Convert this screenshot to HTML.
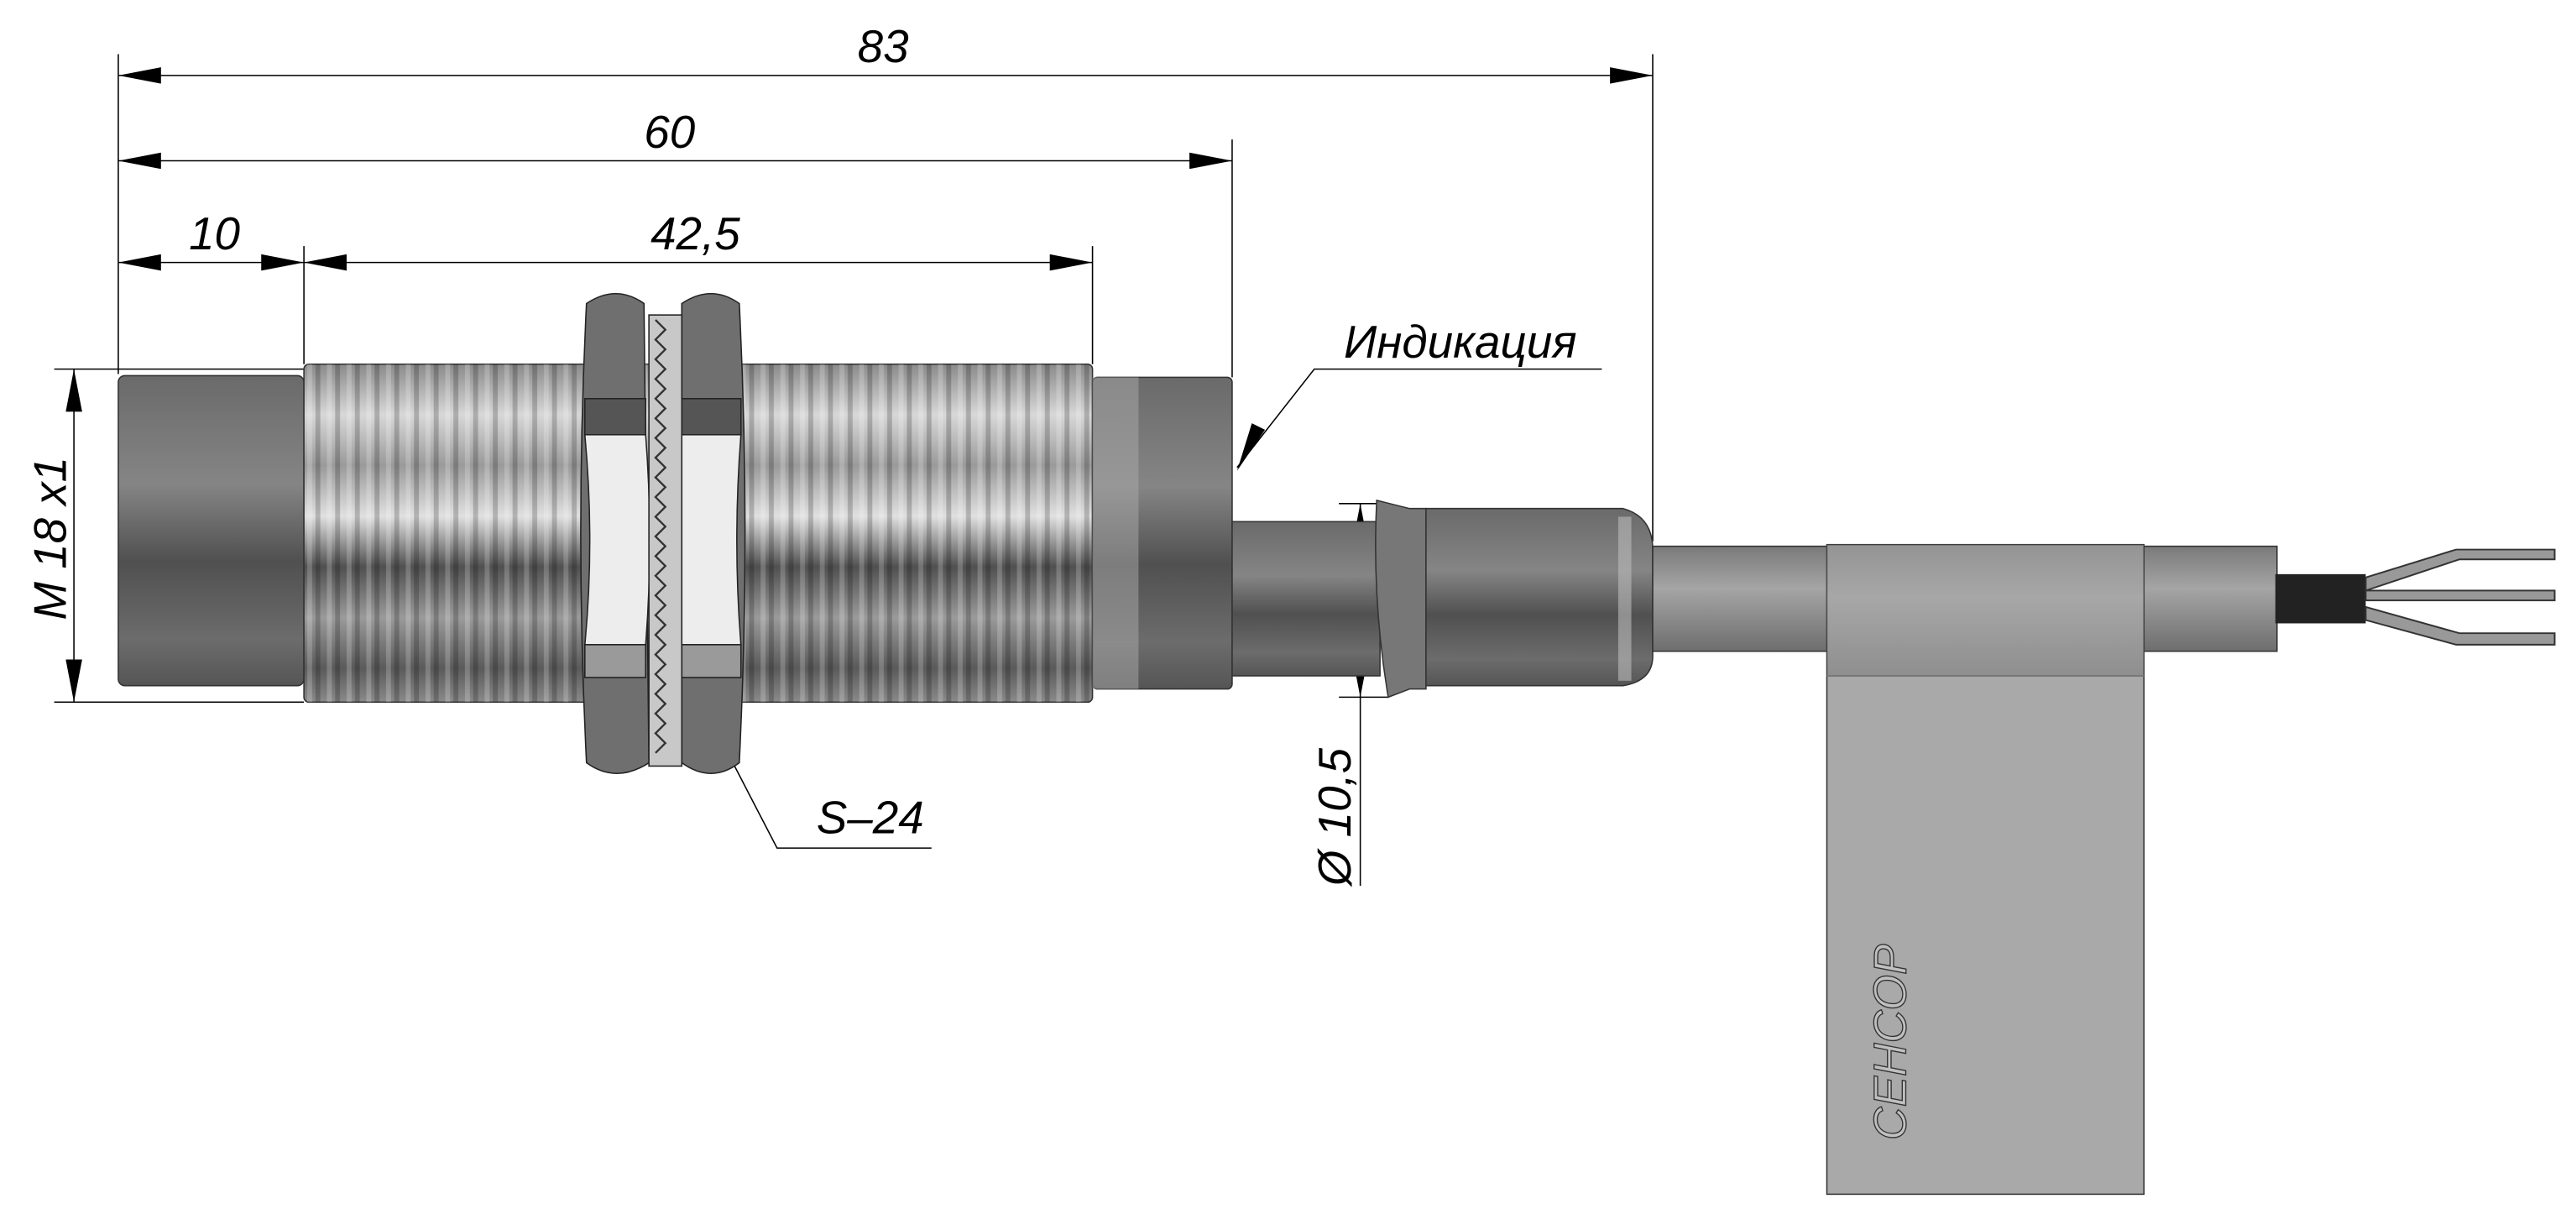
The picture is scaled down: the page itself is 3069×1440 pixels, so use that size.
<!DOCTYPE html>
<html><head><meta charset="utf-8"><style>html,body{margin:0;padding:0;background:#fff}svg{display:block}</style></head><body>
<svg width="3069" height="1440" viewBox="0 0 1568 737" preserveAspectRatio="none" xmlns="http://www.w3.org/2000/svg" font-family="Liberation Sans Narrow, Liberation Sans, DejaVu Sans, sans-serif">
<defs>
<linearGradient id="cyl" x1="0" y1="0" x2="0" y2="1">
<stop offset="0" stop-color="#8a8a8a"/><stop offset="0.15" stop-color="#d8d8d8"/><stop offset="0.3" stop-color="#9a9a9a"/><stop offset="0.45" stop-color="#e0e0e0"/><stop offset="0.6" stop-color="#505050"/><stop offset="0.75" stop-color="#9a9a9a"/><stop offset="0.9" stop-color="#5a5a5a"/><stop offset="1" stop-color="#8a8a8a"/></linearGradient>
<linearGradient id="dark" x1="0" y1="0" x2="0" y2="1">
<stop offset="0" stop-color="#6a6a6a"/><stop offset="0.35" stop-color="#858585"/><stop offset="0.6" stop-color="#505050"/><stop offset="0.85" stop-color="#6c6c6c"/><stop offset="1" stop-color="#555"/></linearGradient>
<linearGradient id="cab" x1="0" y1="0" x2="0" y2="1">
<stop offset="0" stop-color="#7a7a7a"/><stop offset="0.4" stop-color="#a5a5a5"/><stop offset="1" stop-color="#6e6e6e"/></linearGradient>
<pattern id="thr" x="185" y="0" width="12" height="10" patternUnits="userSpaceOnUse">
<rect x="7" width="3" height="10" fill="#000" opacity="0.2"/><rect x="2" width="3" height="10" fill="#fff" opacity="0.2"/></pattern>
<marker id="ar" markerWidth="26" markerHeight="10" refX="26" refY="5" orient="auto-start-reverse" markerUnits="userSpaceOnUse"><path d="M0,0 L26,5 L0,10Z" fill="#000"/></marker>
</defs>
<g stroke="#000" stroke-width="0.8" fill="none">
<line x1="72" y1="33" x2="72" y2="228"/><line x1="185" y1="150" x2="185" y2="222"/><line x1="665" y1="150" x2="665" y2="222"/><line x1="750" y1="85" x2="750" y2="230"/><line x1="1006" y1="33" x2="1006" y2="330"/>
<line x1="72" y1="46" x2="1006" y2="46" marker-start="url(#ar)" marker-end="url(#ar)"/>
<line x1="72" y1="98" x2="750" y2="98" marker-start="url(#ar)" marker-end="url(#ar)"/>
<line x1="72" y1="160" x2="185" y2="160" marker-start="url(#ar)" marker-end="url(#ar)"/>
<line x1="185" y1="160" x2="665" y2="160" marker-start="url(#ar)" marker-end="url(#ar)"/>
<line x1="33" y1="225" x2="185" y2="225"/><line x1="33" y1="428" x2="185" y2="428"/>
<line x1="45" y1="225" x2="45" y2="428" marker-start="url(#ar)" marker-end="url(#ar)"/>
<line x1="815" y1="307" x2="845" y2="307"/><line x1="815" y1="425" x2="845" y2="425"/>
<line x1="828" y1="307" x2="828" y2="425" marker-start="url(#ar)" marker-end="url(#ar)"/>
<line x1="828" y1="425" x2="828" y2="540"/>
<polyline points="753,285 800,225 975,225"/>
<polyline points="428,430 473,517 567,517"/>
</g>
<path d="M753,287 L770,262 L762,258Z" fill="#000"/>
<g font-style="italic" font-size="28" fill="#000">
<text x="522" y="38">83</text><text x="392" y="90">60</text><text x="115" y="152">10</text><text x="396" y="152">42,5</text>
<text x="818" y="218">Индикация</text><text x="497" y="508">S–24</text>
<text transform="translate(40,378) rotate(-90)">M 18 x1</text>
<text transform="translate(822,540) rotate(-90)">Ø 10,5</text>
</g>
<rect x="72" y="229" width="113" height="189" rx="4" fill="url(#dark)" stroke="#333" stroke-width="0.8"/>
<rect x="185" y="222" width="480" height="206" rx="3" fill="url(#cyl)" stroke="#333" stroke-width="0.8"/>
<rect x="185" y="222" width="480" height="206" fill="url(#thr)"/>
<rect x="665" y="230" width="85" height="190" rx="3" fill="url(#dark)" stroke="#333" stroke-width="0.8"/>
<rect x="665" y="230" width="28" height="190" fill="#aaa" opacity="0.5"/>
<g stroke="#222" stroke-width="0.8">
<path d="M357,185 Q375,173 392,185 L395,465 Q375,478 357,465 Q350,325 357,185Z" fill="#6f6f6f"/>
<path d="M415,185 Q433,173 450,185 Q457,325 450,465 Q433,478 415,465Z" fill="#6f6f6f"/>
<path d="M356,265 L393,265 Q398,330 393,393 L356,393 Q362,330 356,265Z" fill="#ededed"/>
<path d="M415,265 L451,265 Q446,330 451,393 L415,393 Q410,330 415,265Z" fill="#ededed"/>
<rect x="356" y="243" width="37" height="22" fill="#555"/><rect x="415" y="243" width="36" height="22" fill="#555"/>
<rect x="356" y="393" width="37" height="20" fill="#9a9a9a"/><rect x="415" y="393" width="36" height="20" fill="#9a9a9a"/>
<rect x="395" y="192" width="20" height="275" fill="#c8c8c8"/>
</g>
<path d="M399,195 l6,6 l-6,6 l6,6 l-6,6 l6,6 l-6,6 l6,6 l-6,6 l6,6 l-6,6 l6,6 l-6,6 l6,6 l-6,6 l6,6 l-6,6 l6,6 l-6,6 l6,6 l-6,6 l6,6 l-6,6 l6,6 l-6,6 l6,6 l-6,6 l6,6 l-6,6 l6,6 l-6,6 l6,6 l-6,6 l6,6 l-6,6 l6,6 l-6,6 l6,6 l-6,6 l6,6 l-6,6 l6,6 l-6,6 l6,6 l-6,6" stroke="#333" fill="none" stroke-width="1.2"/>
<rect x="750" y="318" width="90" height="94" fill="url(#dark)" stroke="#333" stroke-width="0.8"/>
<path d="M838,305 L858,310 L868,310 L868,420 L858,420 L845,425 Q835,365 838,305Z" fill="#777" stroke="#333" stroke-width="0.8"/>
<path d="M868,310 L988,310 Q1006,315 1006,335 L1006,400 Q1006,415 988,418 L868,418Z" fill="url(#dark)" stroke="#333" stroke-width="0.8"/>
<rect x="985" y="315" width="8" height="100" fill="#bbb" opacity="0.6"/>
<rect x="1006" y="333" width="380" height="64" fill="url(#cab)" stroke="#333" stroke-width="0.8"/>
<rect x="1385" y="350" width="55" height="30" fill="#222"/>
<g stroke="#333" stroke-width="1" fill="#999">
<path d="M1440,352 L1495,335 L1555,335 L1555,341 L1497,341 L1440,360Z"/>
<rect x="1440" y="360" width="115" height="6"/>
<path d="M1440,370 L1497,386 L1555,386 L1555,393 L1495,393 L1440,378Z"/>
</g>
<rect x="1112" y="332" width="193" height="396" fill="#a9a9a9" stroke="#333" stroke-width="0.8"/>
<rect x="1112" y="332" width="193" height="80" fill="url(#cab)" opacity="0.45"/>
<line x1="1112" y1="412" x2="1305" y2="412" stroke="#777"/>
<text transform="translate(1160,695) rotate(-90)" font-size="28" font-style="italic" fill="#c0c0c0" stroke="#333" stroke-width="0.7">СЕНСОР</text>
</svg>
</body></html>
